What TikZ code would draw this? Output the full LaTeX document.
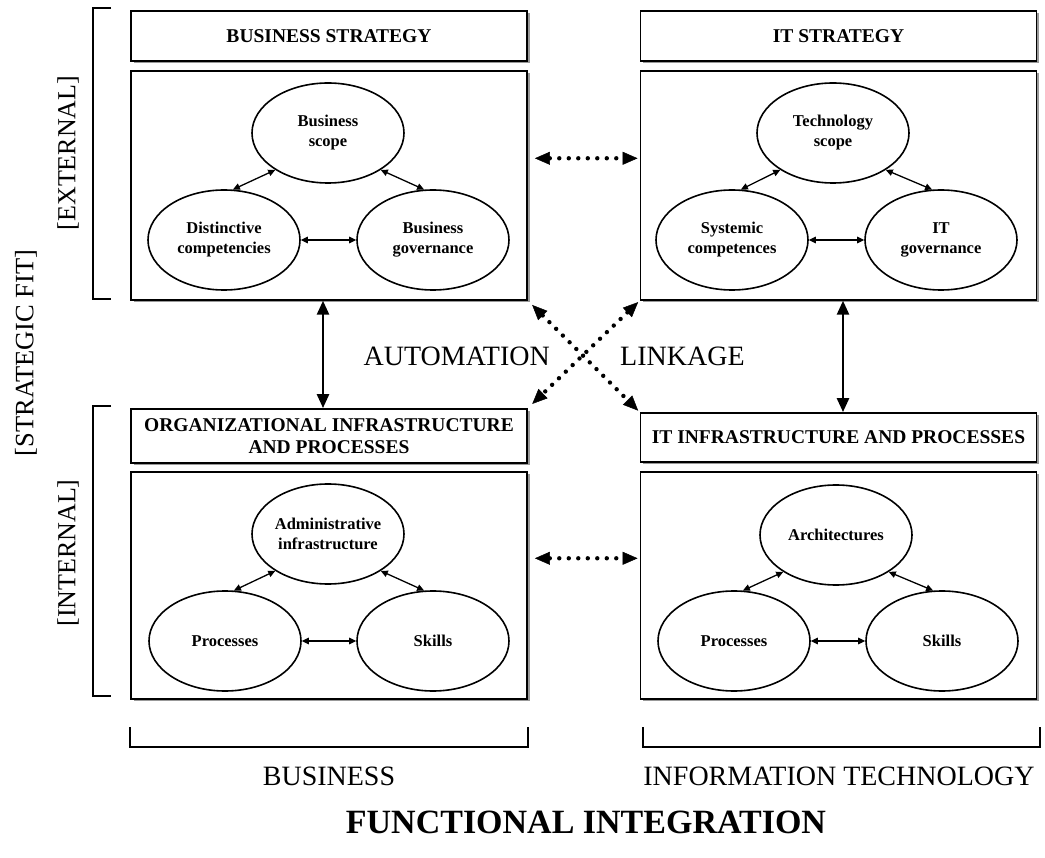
\documentclass[tikz,border=0pt]{standalone}
\usepackage{fontspec}
\setmainfont{Liberation Serif}
\usetikzlibrary{arrows.meta,positioning,shapes.geometric,shadows}

\begin{document}
\begin{tikzpicture}[x=1pt, y=-1pt,
    panel/.style={draw, line width=1.8pt, fill=white, minimum width=396pt,
      inner sep=2pt, drop shadow={shadow xshift=2.5pt, shadow yshift=-2.5pt,
      fill=black!40, opacity=1}},
    head/.style={panel, align=center,
      font=\fontsize{19.5}{22}\selectfont\bfseries},
    factor/.style={draw, ellipse, line width=1.6pt, fill=white,
      minimum width=152pt, minimum height=100pt, inner sep=0pt, align=center,
      font=\fontsize{16.5}{20}\selectfont\bfseries},
    link/.style={{Triangle[length=7pt,width=6.5pt]}-{Triangle[length=7pt,width=6.5pt]},
      line width=1.3pt},
    alignarrow/.style={{Triangle[length=14pt,width=12pt]}-{Triangle[length=14pt,width=12pt]},
      line width=2.6pt},
    dots/.style={{Triangle[length=15pt,width=13pt,line width=0.5pt]}-{Triangle[length=15pt,width=13pt,line width=0.5pt]},
      line width=4.4pt, line cap=round, dash pattern=on 0pt off 9.5pt},
    bracket/.style={line width=2.6pt},
    axislabel/.style={inner sep=0pt, font=\fontsize{28}{30}\selectfont}]
  \useasboundingbox (0,0) rectangle (1045,858);

  % four quadrants
  \node[head, minimum height=50pt] (bst) at (329,36) {BUSINESS STRATEGY};
  \node[panel, minimum height=229pt, below=8pt of bst] (bsm) {};
  \node[head, minimum height=50pt] (its) at (838.5,36) {IT STRATEGY};
  \node[panel, minimum height=229pt, below=8pt of its] (itm) {};
  \node[head, minimum height=54pt] (org) at (329,436) {ORGANIZATIONAL INFRASTRUCTURE\\AND PROCESSES};
  \node[panel, minimum height=227pt, below=7pt of org] (orm) {};
  \node[head, minimum height=49pt] (iti) at (838.5,437.5) {IT INFRASTRUCTURE AND PROCESSES};
  \node[panel, minimum height=227pt, below=8pt of iti] (itp) {};

  % business strategy
  \node[factor] (bs) at (328,133) {Business\\scope};
  \node[factor] (dc) at (224,240) {Distinctive\\competencies};
  \node[factor] (bg) at (433,240) {Business\\governance};
  \draw[link] (bs.215) -- (dc.80);
  \draw[link] (bs.325) -- (bg.100);
  \draw[link] (dc) -- (bg);

  % it strategy
  \node[factor] (ts) at (833,133) {Technology\\scope};
  \node[factor] (sc) at (732,240) {Systemic\\competences};
  \node[factor] (ig) at (941,240) {IT\\governance};
  \draw[link] (ts.215) -- (sc.80);
  \draw[link] (ts.325) -- (ig.100);
  \draw[link] (sc) -- (ig);

  % organizational infrastructure
  \node[factor] (ai) at (328,534) {Administrative\\infrastructure};
  \node[factor] (op) at (225,641) {Processes};
  \node[factor] (os) at (433,641) {Skills};
  \draw[link] (ai.215) -- (op.80);
  \draw[link] (ai.325) -- (os.100);
  \draw[link] (op) -- (os);

  % it infrastructure
  \node[factor] (ar) at (836,535) {Architectures};
  \node[factor] (ip) at (734,641) {Processes};
  \node[factor] (is) at (942,641) {Skills};
  \draw[link] (ar.215) -- (ip.80);
  \draw[link] (ar.325) -- (is.100);
  \draw[link] (ip) -- (is);

  % links between quadrants
  \draw[alignarrow] ([xshift=-6pt]bsm.south) -- ([xshift=-6pt]org.north);
  \draw[alignarrow] ([xshift=4.5pt]itm.south) -- ([xshift=4.5pt]iti.north);
  \draw[dots, shorten <=7pt, shorten >=2pt] ([yshift=27pt]bsm.east) -- ([yshift=27pt]itm.west);
  \draw[dots, shorten <=7pt, shorten >=2pt] ([yshift=27pt]orm.east) -- ([yshift=27pt]itp.west);
  \draw[dots, shorten <=6pt, shorten >=2pt] (bsm.south east) -- (iti.north west);
  \draw[dots, shorten <=2pt, shorten >=6pt] (itm.south west) -- (org.north east);
  \node[axislabel, anchor=east] (auto) at (550,356) {AUTOMATION};
  \node[axislabel, anchor=west] (lnk) at (620,356) {LINKAGE};

  % brackets and axis names
  \draw[bracket] (111,8) -- (93,8) -- (93,299) -- (111,299);
  \draw[bracket] (111,406) -- (93,406) -- (93,696) -- (111,696);
  \draw[bracket] (130,727) -- (130,747) -- (528,747) -- (528,727);
  \draw[bracket] (643,727) -- (643,747) -- (1040,747) -- (1040,727);
  \node[axislabel, rotate=90, font=\fontsize{26.5}{28}\selectfont] (sfit) at (26,353) {[STRATEGIC FIT]};
  \node[axislabel, rotate=90, font=\fontsize{26}{28}\selectfont] (ext) at (68,153) {[EXTERNAL]};
  \node[axislabel, rotate=90, font=\fontsize{26}{28}\selectfont] (int) at (68,553) {[INTERNAL]};
  \node[axislabel] (bus) at (329,776) {BUSINESS};
  \node[axislabel] (inf) at (839,776) {INFORMATION TECHNOLOGY};
  \node[axislabel, font=\fontsize{34}{36}\selectfont\bfseries] (fi) at (586,822) {FUNCTIONAL INTEGRATION};
\end{tikzpicture}
\end{document}
